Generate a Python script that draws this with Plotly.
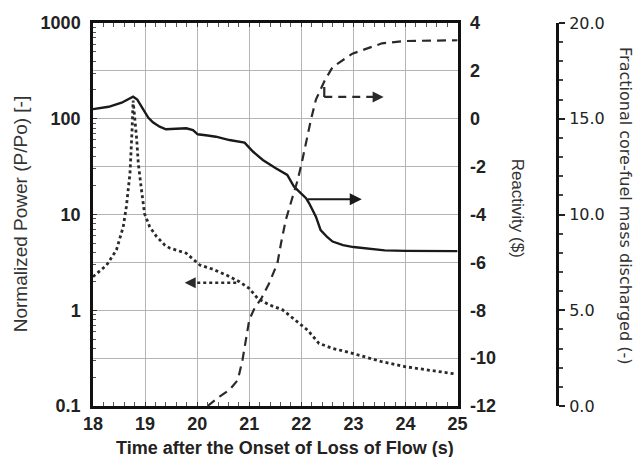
import plotly.graph_objects as go

# ---- data ----
# Normalized power (dotted, left log axis)
t_power = [18.0, 18.26, 18.45, 18.58, 18.64, 18.71, 18.75, 18.77, 18.84, 18.87, 18.93, 18.99,
           19.09, 19.22, 19.38, 19.47, 19.79, 19.98, 20.05, 20.30, 20.56, 20.81, 21.0, 21.16,
           21.38, 21.64, 21.89, 22.12, 22.34, 22.6, 22.98, 23.55, 24.0, 24.96]
power = [2.24, 2.95, 4.27, 7.41, 12.0, 26.9, 75.9, 155, 60.3, 33.9, 18.2, 10.2,
         7.41, 5.89, 4.79, 4.47, 3.94, 3.21, 2.97, 2.68, 2.33, 1.99, 1.69, 1.33,
         1.14, 1.01, 0.79, 0.62, 0.45, 0.40, 0.355, 0.29, 0.257, 0.216]

# Reactivity (solid, right axis, $)
t_react = [18.0, 18.3, 18.55, 18.7, 18.77, 18.85, 18.92, 19.0, 19.06, 19.15, 19.28, 19.4,
           19.6, 19.79, 19.92, 20.01, 20.2, 20.36, 20.62, 20.91, 21.07, 21.26, 21.51, 21.73,
           21.86, 22.09, 22.15, 22.28, 22.37, 22.5, 22.6, 22.8, 23.0, 23.6, 24.0, 25.0]
react = [0.40, 0.50, 0.67, 0.85, 0.92, 0.80, 0.55, 0.25, 0.05, -0.15, -0.33, -0.44,
         -0.42, -0.40, -0.47, -0.65, -0.70, -0.75, -0.89, -1.0, -1.37, -1.72, -2.07, -2.35,
         -2.84, -3.32, -3.53, -4.09, -4.65, -4.95, -5.13, -5.28, -5.36, -5.50, -5.52, -5.53]

# Fractional core-fuel mass discharged (dashed, third axis)
t_frac = [20.2, 20.43, 20.62, 20.78, 20.87, 20.94, 21.0, 21.1, 21.23, 21.38, 21.54, 21.61,
          21.70, 21.83, 21.93, 22.02, 22.1, 22.18, 22.28, 22.45, 22.6, 22.98, 23.55, 24.0, 25.0]
frac = [0.0, 0.49, 0.84, 1.36, 2.4, 3.45, 4.5, 5.1, 5.6, 6.4, 7.45, 8.5,
        9.7, 10.9, 11.8, 12.85, 13.9, 14.9, 16.0, 17.0, 17.7, 18.4, 18.94, 19.06, 19.1]

react_ticks = [-12, -10, -8, -6, -4, -2, 0, 2, 4]
react_ticktext = ["-12", "-10", "-8", "-6", "-4", "-2", "0", "2", "4"]

# arrow indicators (data coords: time, reactivity)
arrow_react = dict(t0=22.09, t1=23.16, r=-3.36)
arrow_power = dict(t0=20.75, t1=19.76, r=-6.85)
arrow_frac = dict(t=22.44, r_top=1.33, r=0.91, t1=23.58)

FONT = "Liberation Sans, Arial, sans-serif"
FONT3 = "DejaVu Sans, Verdana, sans-serif"
GRID = "#b4b4b4"

fig = go.Figure()
fig.add_trace(go.Scatter(x=t_power, y=power, mode="lines", yaxis="y",
                         line=dict(color="#2a2a2a", width=2.8, dash="dot"), showlegend=False))
fig.add_trace(go.Scatter(x=t_react, y=react, mode="lines", yaxis="y2",
                         line=dict(color="#1a1a1a", width=2.4), showlegend=False))
fig.add_trace(go.Scatter(x=t_frac, y=frac, mode="lines", yaxis="y3",
                         line=dict(color="#2a2a2a", width=2.2, dash="9px,6px"), showlegend=False))

L, R, T, B = 93, 20, 23, 51
W, H = 635, 457
pw = W - L - R
ph = H - T - B
xdom = (459 - L) / pw

def px(x):
    return (x - L) / pw

def py(y):
    return (H - B - y) / ph

tickfont = dict(family=FONT, size=18, color="#222", weight="bold")

fig.update_layout(
    width=W, height=H,
    margin=dict(l=L, r=R, t=T, b=B),
    paper_bgcolor="white", plot_bgcolor="white",
    font=dict(family=FONT, size=17, color="#222"),
    xaxis=dict(domain=[0, xdom], range=[18, 25], dtick=1, showgrid=True, gridcolor=GRID,
               gridwidth=1, showline=True, linecolor="#111", linewidth=2.5, mirror="allticks",
               ticks="inside", ticklen=4, tickcolor="#333", zeroline=False,
               ticklabelstandoff=0, tickfont=tickfont,
               minor=dict(dtick=0.2, ticks="inside", ticklen=3, tickcolor="#555", showgrid=False)),
    yaxis=dict(type="log", range=[-1, 3], tickmode="linear", tick0=0, dtick=1,
               exponentformat="none", tickfont=tickfont,
               showgrid=False, showline=True, linecolor="#111", linewidth=2.5, mirror=True,
               ticks="inside", ticklen=4, tickcolor="#333", zeroline=False, ticklabelstandoff=6,
               minor=dict(dtick="D1", ticks="inside", ticklen=3, tickcolor="#555", showgrid=False)),
    yaxis2=dict(overlaying="y", side="right", anchor="x", range=[-12, 4],
                tickmode="array", tickvals=react_ticks, ticktext=react_ticktext, tickfont=tickfont,
                showgrid=True, gridcolor=GRID, gridwidth=1, showline=True, linecolor="#111",
                linewidth=2.5, ticks="", zeroline=False, ticklabelstandoff=6),
    yaxis3=dict(overlaying="y", side="right", anchor="free", position=px(559), range=[0, 20],
                dtick=5, tickformat=".1f", showgrid=False, showline=True, linecolor="#111",
                linewidth=2.5, ticks="outside", ticklen=6, tickcolor="#222", tickwidth=1.5,
                zeroline=False, ticklabelstandoff=1,
                tickfont=dict(family=FONT3, size=16, color="#222"),
                minor=dict(dtick=1, ticks="outside", ticklen=4, tickcolor="#444")),
)

ann = []
ann.append(dict(text="Normalized Power (P/Po) [-]", x=px(20), y=py(214), xref="paper", yref="paper",
                xanchor="center", yanchor="middle",
                textangle=-90, showarrow=False, font=dict(family=FONT, size=19, color="#333")))
ann.append(dict(text="Reactivity ($)", x=px(520), y=py(208), xref="paper", yref="paper",
                xanchor="center", yanchor="middle",
                textangle=90, showarrow=False, font=dict(family=FONT, size=17, color="#333")))
ann.append(dict(text="Fractional core-fuel mass discharged (-)", x=px(627), y=py(206),
                xref="paper", yref="paper", xanchor="center", yanchor="middle",
                textangle=90, showarrow=False, font=dict(family=FONT3, size=16, color="#333")))
ann.append(dict(text="Time after the Onset of Loss of Flow (s)", x=px(286), y=py(448),
                xref="paper", yref="paper", xanchor="center", yanchor="middle",
                showarrow=False, font=dict(family=FONT, size=18, color="#222", weight="bold")))

# solid arrow
ann.append(dict(x=arrow_react["t1"], y=arrow_react["r"], xref="x", yref="y2",
                ax=arrow_react["t0"], ay=arrow_react["r"], axref="x", ayref="y2",
                text="", showarrow=True, arrowhead=2, arrowsize=1.2, arrowwidth=2,
                arrowcolor="#1a1a1a"))
# dotted arrow head
ann.append(dict(x=arrow_power["t1"], y=arrow_power["r"], xref="x", yref="y2",
                ax=arrow_power["t1"] + 0.2, ay=arrow_power["r"], axref="x", ayref="y2",
                text="", showarrow=True, arrowhead=2, arrowsize=1.1, arrowwidth=2,
                arrowcolor="#2a2a2a"))
# dashed arrow head
ann.append(dict(x=arrow_frac["t1"], y=arrow_frac["r"], xref="x", yref="y2",
                ax=arrow_frac["t1"] - 0.2, ay=arrow_frac["r"], axref="x", ayref="y2",
                text="", showarrow=True, arrowhead=2, arrowsize=1.1, arrowwidth=2,
                arrowcolor="#2a2a2a"))
fig.update_layout(annotations=ann)

shapes = [
    dict(type="line", xref="x", yref="y2", x0=arrow_power["t0"], x1=arrow_power["t1"] + 0.15,
         y0=arrow_power["r"], y1=arrow_power["r"], line=dict(color="#2a2a2a", width=2.4, dash="dot")),
    dict(type="line", xref="x", yref="y2", x0=arrow_frac["t"], x1=arrow_frac["t"],
         y0=arrow_frac["r_top"], y1=arrow_frac["r"], line=dict(color="#2a2a2a", width=2.2)),
    dict(type="line", xref="x", yref="y2", x0=arrow_frac["t"], x1=arrow_frac["t1"] - 0.15,
         y0=arrow_frac["r"], y1=arrow_frac["r"], line=dict(color="#2a2a2a", width=2.2, dash="8px,6px")),
]
fig.update_layout(shapes=shapes)

fig.write_html("out.html")
